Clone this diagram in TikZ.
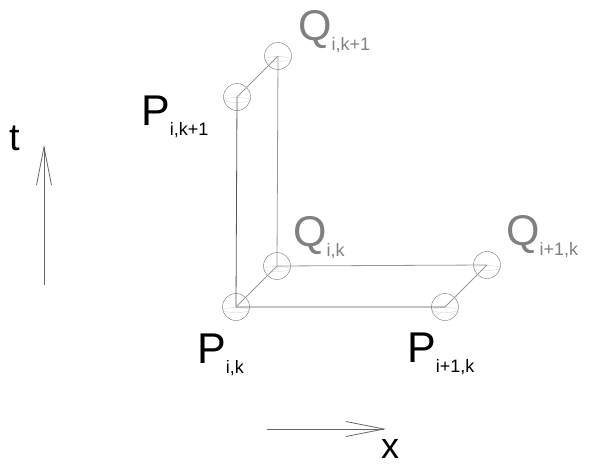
\documentclass[tikz,border=0pt]{standalone}
\usepackage{fontspec}
\setmainfont{Liberation Sans}
\usetikzlibrary{arrows.meta}

\newcommand{\sublab}[2]{#1\raisebox{-10pt}{\fontsize{18}{18}\selectfont #2}}

\begin{document}
\begin{tikzpicture}[
    x=1pt,
    y=-1pt,
    kugel/.style={draw=black!55,circle,minimum size=27pt,inner sep=0pt,
        path picture={\draw[black!15] ([yshift=-3pt]path picture bounding box.center)
            ellipse (13pt and 2.5pt);}},
    plinie/.style={black!65,line width=0.8pt},
    qlinie/.style={black!40,line width=0.8pt},
    plab/.style={anchor=base west,inner sep=0pt,font=\fontsize{43}{43}\selectfont},
    qlab/.style={plab,text=black!50},
    achse/.style={black!60,line width=0.8pt,-{Straight Barb[length=38pt,width=15pt]}}
]
    \useasboundingbox (0,0) rectangle (589,466);

    % Punkte
    \node[kugel] (Pik)  at (236,307) {};
    \node[kugel] (Pi1k) at (445,307) {};
    \node[kugel] (Pik1) at (237,97) {};
    \node[kugel] (Qik)  at (277,266) {};
    \node[kugel] (Qi1k) at (487,265) {};
    \node[kugel] (Qik1) at (278,56) {};

    % Verbindungen
    \draw[plinie] (Pik1.center) -- (Pik.center) -- (Pi1k.center);
    \draw[qlinie] (Qik1.center) -- (Qik.center) -- (Qi1k.center);
    \draw[qlinie] (Pik.center) -- (Qik.center);
    \draw[qlinie] (Pi1k.center) -- (Qi1k.center);
    \draw[qlinie] (Pik1.center) -- (Qik1.center);

    % Beschriftungen
    \node[plab] (lPik)  at (197,363) {\sublab{P}{i,k}};
    \node[plab] (lPi1k) at (407,362) {\sublab{P}{i+1,k}};
    \node[plab] (lPik1) at (141,125) {\sublab{P}{i,k+1}};
    \node[qlab] (lQik)  at (293,246) {\sublab{Q}{i,k}};
    \node[qlab] (lQi1k) at (506,245) {\sublab{Q}{i+1,k}};
    \node[qlab] (lQik1) at (298,40) {\sublab{Q}{i,k+1}};

    % Achsen
    \coordinate (t0) at (44,285);
    \coordinate (t1) at (44,145);
    \draw[achse] (t0) -- (t1);
    \node[anchor=base west,inner sep=0pt,font=\fontsize{38}{38}\selectfont] (tlab) at (9,150) {t};
    \coordinate (x0) at (267,429);
    \coordinate (x1) at (386,429);
    \draw[achse] (x0) -- (x1);
    \node[anchor=base west,inner sep=0pt,text depth=0pt,font=\fontsize{36}{36}\selectfont] (xlab) at (381,458) {x};
\end{tikzpicture}
\end{document}
